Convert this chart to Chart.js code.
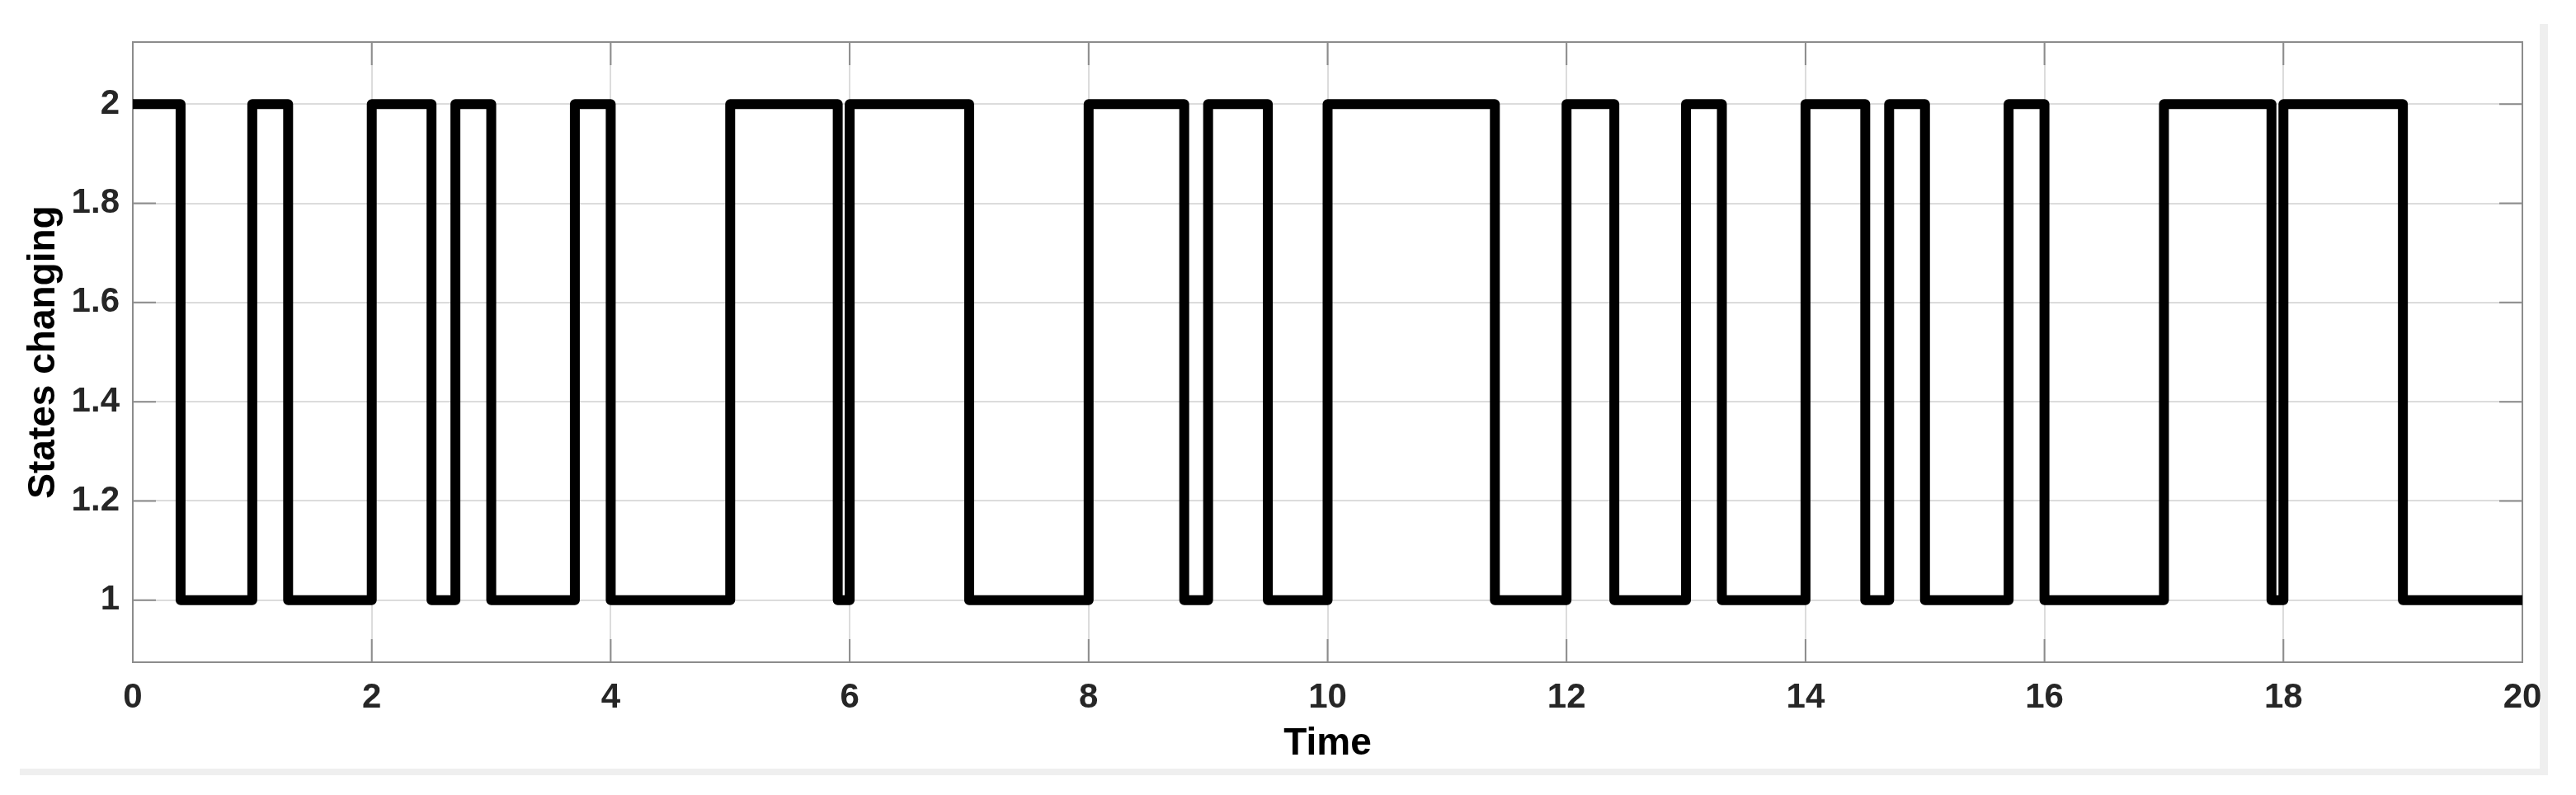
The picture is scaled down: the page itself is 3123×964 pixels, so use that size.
<!DOCTYPE html>
<html>
<head>
<meta charset="utf-8">
<title>States changing</title>
<script src="https://cdn.jsdelivr.net/npm/chart.js@4.4.1/dist/chart.umd.min.js"></script>
<style>
  html, body { margin: 0; padding: 0; background: #fff; }
  #wrap { position: relative; width: 3123px; height: 964px; overflow: hidden; }
  #frame {
    position: absolute; left: 24px; top: 29px; width: 3055px; height: 903px;
    border-right: 10px solid #efefef; border-bottom: 8px solid #efefef;
  }
  #chart { position: absolute; left: 0; top: 0; }
</style>
</head>
<body>
<div id="wrap">
  <div id="frame"></div>
  <canvas id="chart" width="3123" height="964"></canvas>
</div>
<script>
// times where the state switches, and the state held from that time on
const switchTimes = [0, 0.4, 1.0, 1.3, 2.0, 2.5, 2.7, 3.0, 3.7, 4.0,
  5.0, 5.9, 6.0, 7.0, 8.0, 8.8, 9.0, 9.5, 10.0, 11.4,
  12.0, 12.4, 13.0, 13.3, 14.0, 14.5, 14.7, 15.0, 15.7, 16.0,
  17.0, 17.9, 18.0, 19.0, 20.0];
const states = [2, 1, 2, 1, 2, 1, 2, 1, 2, 1,
  2, 1, 2, 1, 2, 1, 2, 1, 2, 1,
  2, 1, 2, 1, 2, 1, 2, 1, 2, 1,
  2, 1, 2, 1, 1];

const xTicks = [0, 2, 4, 6, 8, 10, 12, 14, 16, 18, 20];
const yTicks = [1, 1.2, 1.4, 1.6, 1.8, 2];

const FONT = 'Liberation Sans, Arial, Helvetica, sans-serif';

// matlab style box round the axes, with the ticks pointing inwards
const boxAndTicks = {
  id: 'boxAndTicks',
  beforeDatasetsDraw(chart) {
    const { ctx, chartArea: a, scales: { x, y } } = chart;
    const len = 28;
    ctx.save();
    ctx.strokeStyle = '#8c8c8c';
    ctx.lineWidth = 2;
    ctx.beginPath();
    xTicks.forEach(v => {
      const px = x.getPixelForValue(v);
      ctx.moveTo(px, a.bottom); ctx.lineTo(px, a.bottom - len);
      ctx.moveTo(px, a.top); ctx.lineTo(px, a.top + len);
    });
    yTicks.forEach(v => {
      const py = y.getPixelForValue(v);
      ctx.moveTo(a.left, py); ctx.lineTo(a.left + len, py);
      ctx.moveTo(a.right, py); ctx.lineTo(a.right - len, py);
    });
    ctx.stroke();
    ctx.strokeRect(a.left, a.top, a.right - a.left, a.bottom - a.top);
    ctx.restore();
  }
};

const ctx = document.getElementById('chart').getContext('2d');
new Chart(ctx, {
  type: 'line',
  data: {
    datasets: [{
      data: switchTimes.map((t, i) => ({ x: t, y: states[i] })),
      stepped: 'before',
      borderColor: '#000',
      borderWidth: 12,
      borderJoinStyle: 'round',
      pointRadius: 0,
      fill: false
    }]
  },
  options: {
    responsive: false,
    animation: false,
    devicePixelRatio: 1,
    layout: { padding: { top: 51, right: 65, bottom: 0, left: 0 } },
    plugins: { legend: { display: false }, tooltip: { enabled: false } },
    scales: {
      x: {
        type: 'linear',
        min: 0,
        max: 20,
        afterBuildTicks: s => { s.ticks = xTicks.map(v => ({ value: v })); },
        afterFit: s => { s.height = 161; },
        grid: { color: '#dcdcdc', lineWidth: 2, drawTicks: false },
        border: { display: false },
        ticks: {
          font: { family: FONT, size: 42, weight: 'bold' },
          color: '#262626',
          padding: 18,
          maxRotation: 0,
          autoSkip: false,
          callback: v => String(v)
        },
        title: {
          display: true,
          text: 'Time',
          font: { family: FONT, size: 46, weight: 'bold' },
          color: '#000',
          padding: { top: 0, bottom: 34 }
        }
      },
      y: {
        type: 'linear',
        min: 0.875,
        max: 2.125,
        afterBuildTicks: s => { s.ticks = yTicks.map(v => ({ value: v })); },
        afterFit: s => { s.width = 161; },
        grid: { color: '#dcdcdc', lineWidth: 2, drawTicks: false },
        border: { display: false },
        ticks: {
          font: { family: FONT, size: 42, weight: 'bold' },
          color: '#262626',
          padding: 16,
          autoSkip: false,
          callback: v => String(v)
        },
        title: {
          display: true,
          text: 'States changing',
          font: { family: FONT, size: 46, weight: 'bold' },
          color: '#000',
          padding: { top: 26, bottom: 0 }
        }
      }
    }
  },
  plugins: [boxAndTicks]
});
</script>
</body>
</html>
